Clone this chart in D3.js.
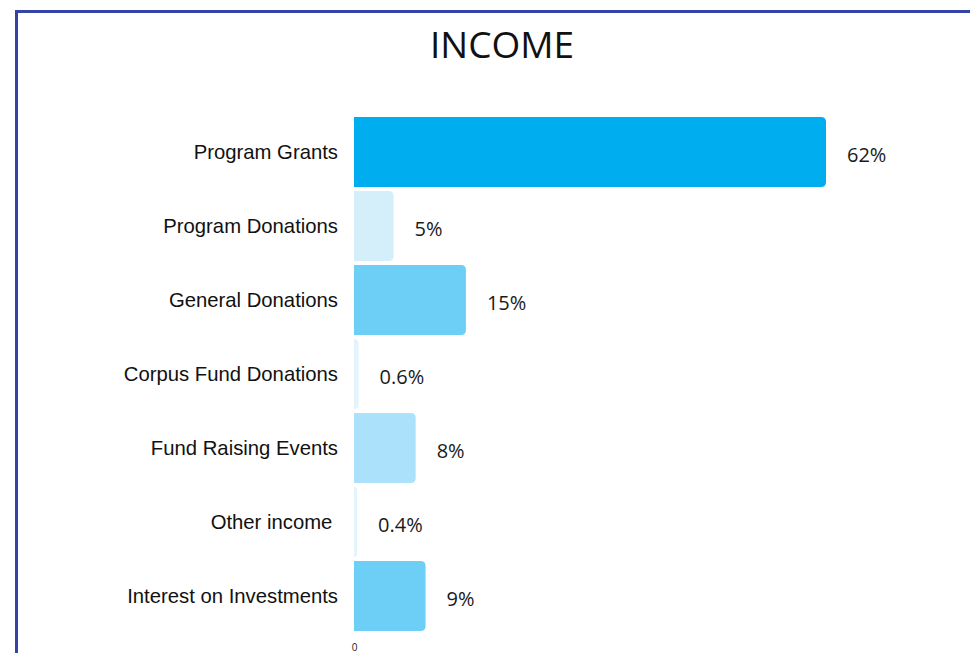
<!DOCTYPE html>
<html>
<head>
<meta charset="utf-8">
<script src="https://cdn.jsdelivr.net/npm/d3@7/dist/d3.min.js"></script>
<style>
  html, body { margin: 0; padding: 0; background: #fff; }
  svg { display: block; }
</style>
</head>
<body>
<svg id="chart" width="970" height="653"></svg>
<script>
const categories = ["Program Grants", "Program Donations", "General Donations", "Corpus Fund Donations", "Fund Raising Events", "Other income\u00a0", "Interest on Investments"];
const values = [62, 5.2, 14.7, 0.6, 8.1, 0.4, 9.4];
const valueLabels = ["62%", "5%", "15%", "0.6%", "8%", "0.4%", "9%"];
const barColors = ["#00aeef", "#d4eefa", "#6dcff6", "#e3f4fc", "#abe1fa", "#e3f4fc", "#6dcff6"];
const xTicks = [0];
const title = "INCOME";

const svg = d3.select("#chart");

// frame
svg.append("rect")
  .attr("x", 16.5).attr("y", 11.5)
  .attr("width", 1000).attr("height", 700)
  .attr("fill", "none")
  .attr("stroke", "#3343a6")
  .attr("stroke-width", 3);

// title
svg.append("text")
  .attr("x", 502).attr("y", 58)
  .attr("text-anchor", "middle")
  .attr("font-family", "'Open Sans', sans-serif")
  .attr("font-size", 37)
  .attr("fill", "#111")
  .text(title);

const x = d3.scaleLinear().domain([0, d3.max(values)]).range([354, 826]);
const y = d3.scaleBand().domain(categories).range([115, 633]).paddingInner(0.054).paddingOuter(0.027);

function barPath(x0, y0, w, h, r) {
  r = Math.min(r, w, h / 2);
  return `M${x0},${y0}H${x0 + w - r}Q${x0 + w},${y0} ${x0 + w},${y0 + r}V${y0 + h - r}Q${x0 + w},${y0 + h} ${x0 + w - r},${y0 + h}H${x0}Z`;
}

const g = svg.append("g");
g.selectAll("path.bar")
  .data(categories)
  .join("path")
  .attr("class", "bar")
  .attr("d", (d, i) => barPath(x(0), y(d), x(values[i]) - x(0), y.bandwidth(), 5))
  .attr("fill", (d, i) => barColors[i]);

// value labels
g.selectAll("text.val")
  .data(categories)
  .join("text")
  .attr("class", "val")
  .attr("x", (d, i) => x(values[i]) + 21)
  .attr("y", d => y(d) + y.bandwidth() / 2 + 3)
  .attr("dy", "0.35em")
  .attr("font-family", "'Open Sans', sans-serif")
  .attr("font-size", 20)
  .attr("fill", "#1a1a1a")
  .text((d, i) => valueLabels[i]);

// category labels
g.selectAll("text.cat")
  .data(categories)
  .join("text")
  .attr("class", "cat")
  .attr("x", 338)
  .attr("y", d => y(d) + y.bandwidth() / 2)
  .attr("dy", "0.35em")
  .attr("text-anchor", "end")
  .attr("font-family", "'Liberation Sans', Arial, sans-serif")
  .attr("font-size", 20.3)
  .attr("fill", "#111")
  .attr("xml:space", "preserve")
  .style("white-space", "pre")
  .text(d => d);

// x axis (only 0)
const ax = svg.append("g")
  .attr("transform", "translate(0,640)")
  .call(d3.axisBottom(x).tickValues(xTicks).tickSize(0).tickPadding(4));
ax.select(".domain").remove();
ax.selectAll("text")
  .attr("font-family", "'Open Sans', sans-serif")
  .attr("font-size", 10)
  .attr("fill", "#222");
</script>
</body>
</html>
